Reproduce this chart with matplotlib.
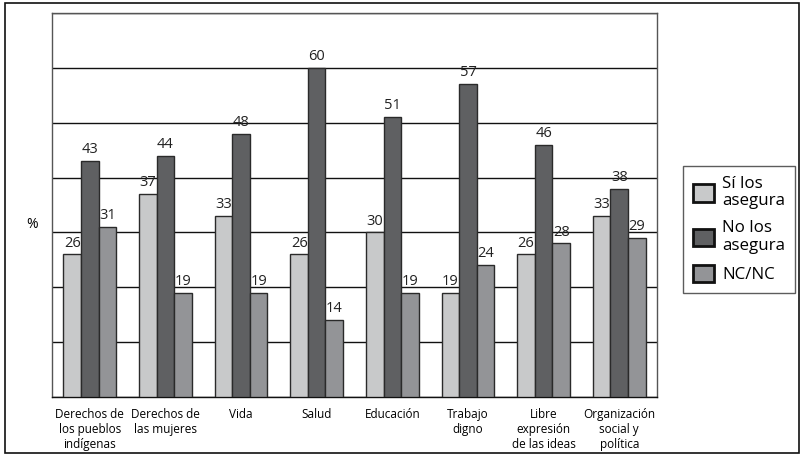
import numpy as np
import matplotlib.pyplot as plt
from matplotlib.patches import Rectangle, Patch

plt.rcParams['font.family'] = ['Open Sans', 'DejaVu Sans']

categorias = ['Derechos de\nlos pueblos\nindígenas', 'Derechos de\nlas mujeres', 'Vida', 'Salud',
              'Educación', 'Trabajo\ndigno', 'Libre\nexpresión\nde las ideas',
              'Organización\nsocial y\npolítica']
si_asegura = [26, 37, 33, 26, 30, 19, 26, 33]
no_asegura = [43, 44, 48, 60, 51, 57, 46, 38]
nc_nc = [31, 19, 19, 14, 19, 24, 28, 29]
series = ['Sí los\nasegura', 'No los\nasegura', 'NC/NC']
colores = ['#c8c9ca', '#5f6062', '#939497']

fig = plt.figure(figsize=(8.02, 4.55), dpi=100)
ax = fig.add_axes([0.0648, 0.1275, 0.7545, 0.844])

x = np.arange(len(categorias))
w = 0.232
for i, vals in enumerate([si_asegura, no_asegura, nc_nc]):
    pos = x + (i - 1) * w
    ax.bar(pos, vals, width=w, color=colores[i], edgecolor='#2a2a2a', linewidth=1, zorder=3)
    for px, v in zip(pos, vals):
        ax.text(px, v + 0.7, str(v), ha='center', va='bottom', fontsize=10.5, color='#222222')

ax.set_xlim(-0.5, len(categorias) - 0.5)
ax.set_ylim(0, 70)
ax.set_yticks(np.arange(0, 71, 10))
ax.set_yticklabels([])
ax.yaxis.grid(True, color='#111111', linewidth=1, zorder=0)
ax.tick_params(axis='y', length=0)
ax.set_xticks(x)
ax.set_xticklabels(categorias, fontsize=8.5, linespacing=1.2)
ax.tick_params(axis='x', length=0, pad=8)
for s in ax.spines.values():
    s.set_color('#555555')
    s.set_linewidth(1)
ax.spines['bottom'].set_color('#111111')
ax.set_ylabel('%', rotation=0, fontsize=10)
ax.yaxis.set_label_coords(-0.033, 0.43)

handles = [Patch(facecolor=c, edgecolor='#111111', linewidth=2) for c in colores]
leg = fig.legend(handles, series, loc='upper left', bbox_to_anchor=(683 / 802, 1 - 166 / 455),
                 fontsize=12.2, frameon=True, fancybox=False, handlelength=1.2, handleheight=1.2,
                 handletextpad=0.5, labelspacing=0.65, borderpad=0.6, borderaxespad=0)
leg.get_frame().set_edgecolor('#333333')
leg.get_frame().set_linewidth(1)
for t in leg.get_texts():
    t.set_linespacing(1.1)

# borde exterior
fig.patches.append(Rectangle((0.006, 0.004), 0.99, 0.989, transform=fig.transFigure,
                             fill=False, edgecolor='#111111', linewidth=1.2))

fig.savefig('out.png', dpi=100)
